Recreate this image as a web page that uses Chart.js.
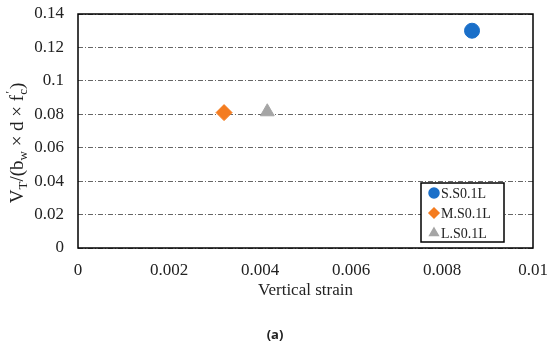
<!DOCTYPE html>
<html>
<head>
<meta charset="utf-8">
<script src="https://cdn.jsdelivr.net/npm/chart.js@4"></script>
<style>
  html, body { margin: 0; padding: 0; background: #fff; }
  #wrap { width: 550px; height: 348px; }
</style>
</head>
<body>
<div id="wrap"><canvas id="myChart"></canvas></div>
<script>
// data
var seriesNames = ['S.S0.1L', 'M.S0.1L', 'L.S0.1L'];
var strainX = [0.00866, 0.00321, 0.00416];
var ratioY = [0.130, 0.081, 0.0815];
var markerStyles = ['circle', 'rectRot', 'triangle'];
var markerColors = ['#1A6FC9', '#F47C20', '#A5A5A5'];
var xTicks = [0, 0.002, 0.004, 0.006, 0.008, 0.01];
var yTicks = [0, 0.02, 0.04, 0.06, 0.08, 0.1, 0.12, 0.14];
var xTitle = 'Vertical strain';
var caption = '(a)';

var serif = "'Liberation Serif', 'Times New Roman', serif";

var datasets = seriesNames.map(function (name, i) {
    return {
        label: name,
        data: [{ x: strainX[i], y: ratioY[i] }],
        pointStyle: markerStyles[i],
        backgroundColor: markerColors[i],
        borderColor: markerColors[i],
        pointRadius: i == 0 ? 7.5 : 8,
        pointHoverRadius: 8
    };
});

// frame, axis titles, legend box, caption
var decorPlugin = {
    id: 'decor',
    afterDraw: function (chart) {
        var ctx = chart.ctx;
        var a = chart.chartArea;
        ctx.save();
        ctx.strokeStyle = '#000';
        ctx.lineWidth = 1.5;
        ctx.strokeRect(a.left, a.top, a.right - a.left, a.bottom - a.top);

        // y axis title with subscripts
        var parts = [
            ['V', 0], ['T', -1], ['/(b', 0], ['w', -1], [' \u00d7 d \u00d7 f', 0], ['c', -2]
        ];
        var big = '19px ' + serif, small = '13px ' + serif;
        ctx.translate(18, 143);
        ctx.rotate(-Math.PI / 2);
        var total = 0;
        parts.forEach(function (p) {
            ctx.font = p[1] == 0 ? big : small;
            total += ctx.measureText(p[0]).width;
        });
        ctx.font = big;
        total += ctx.measureText(')').width;
        var x = -total / 2;
        ctx.fillStyle = '#222';
        ctx.textBaseline = 'middle';
        parts.forEach(function (p) {
            ctx.font = p[1] == 0 ? big : small;
            var dy = p[1] == 0 ? 0 : 6;
            if (p[1] == -2) {
                ctx.fillText('\u2032', x + 1, -7);
            }
            ctx.fillText(p[0], x, dy);
            x += ctx.measureText(p[0]).width;
        });
        ctx.font = big;
        ctx.fillText(')', x, 0);
        ctx.restore();

        ctx.save();
        // x axis title
        ctx.fillStyle = '#222';
        ctx.textAlign = 'center';
        ctx.textBaseline = 'middle';
        ctx.font = '17px ' + serif;
        ctx.fillText(xTitle, (a.left + a.right) / 2, 291);

        // caption
        ctx.font = "bold 13px 'Open Sans', 'Noto Sans', sans-serif";
        ctx.fillText(caption, 275, 335);

        // legend
        ctx.textAlign = 'left';
        ctx.fillStyle = '#fff';
        ctx.fillRect(421, 183, 83, 59);
        ctx.strokeStyle = '#000';
        ctx.lineWidth = 1.5;
        ctx.strokeRect(421, 183, 83, 59);
        ctx.font = '14px ' + serif;
        seriesNames.forEach(function (name, i) {
            var yy = 193 + i * 20;
            ctx.fillStyle = markerColors[i];
            ctx.strokeStyle = markerColors[i];
            Chart.helpers.drawPoint(ctx, { pointStyle: markerStyles[i], radius: 5, borderWidth: 1 }, 434, yy);
            ctx.fillStyle = '#222';
            ctx.fillText(name, 441, yy + 1);
        });
        ctx.restore();
    }
};

var ctx = document.getElementById('myChart').getContext('2d');
var myChart = new Chart(ctx, {
    type: 'scatter',
    data: { datasets: datasets },
    options: {
        responsive: true,
        maintainAspectRatio: false,
        animation: false,
        layout: { padding: { top: 14, right: 17, left: 0, bottom: 0 } },
        plugins: {
            legend: { display: false },
            tooltip: { enabled: false }
        },
        scales: {
            x: {
                type: 'linear',
                min: 0,
                max: 0.01,
                afterBuildTicks: function (scale) {
                    scale.ticks = xTicks.map(function (v) { return { value: v }; });
                },
                afterFit: function (scale) {
                    scale.height = 100;
                    scale.paddingLeft = 0;
                    scale.paddingRight = 0;
                },
                grid: { display: false, drawTicks: false },
                border: { display: false },
                ticks: {
                    padding: 12,
                    color: '#222',
                    font: { family: serif, size: 17 },
                    maxRotation: 0,
                    callback: function (v) { return String(+v.toFixed(3)); }
                }
            },
            y: {
                min: 0,
                max: 0.14,
                afterBuildTicks: function (scale) {
                    scale.ticks = yTicks.map(function (v) { return { value: v }; });
                },
                afterFit: function (scale) {
                    scale.width = 78;
                    scale.paddingTop = 0;
                    scale.paddingBottom = 0;
                },
                grid: {
                    color: '#666',
                    lineWidth: 1,
                    drawTicks: false
                },
                border: { display: false, dash: [5, 2, 1, 2] },
                ticks: {
                    padding: 14,
                    color: '#222',
                    font: { family: serif, size: 17 },
                    callback: function (v) { return String(+v.toFixed(2)); }
                }
            }
        }
    },
    plugins: [decorPlugin]
});
</script>
</body>
</html>
